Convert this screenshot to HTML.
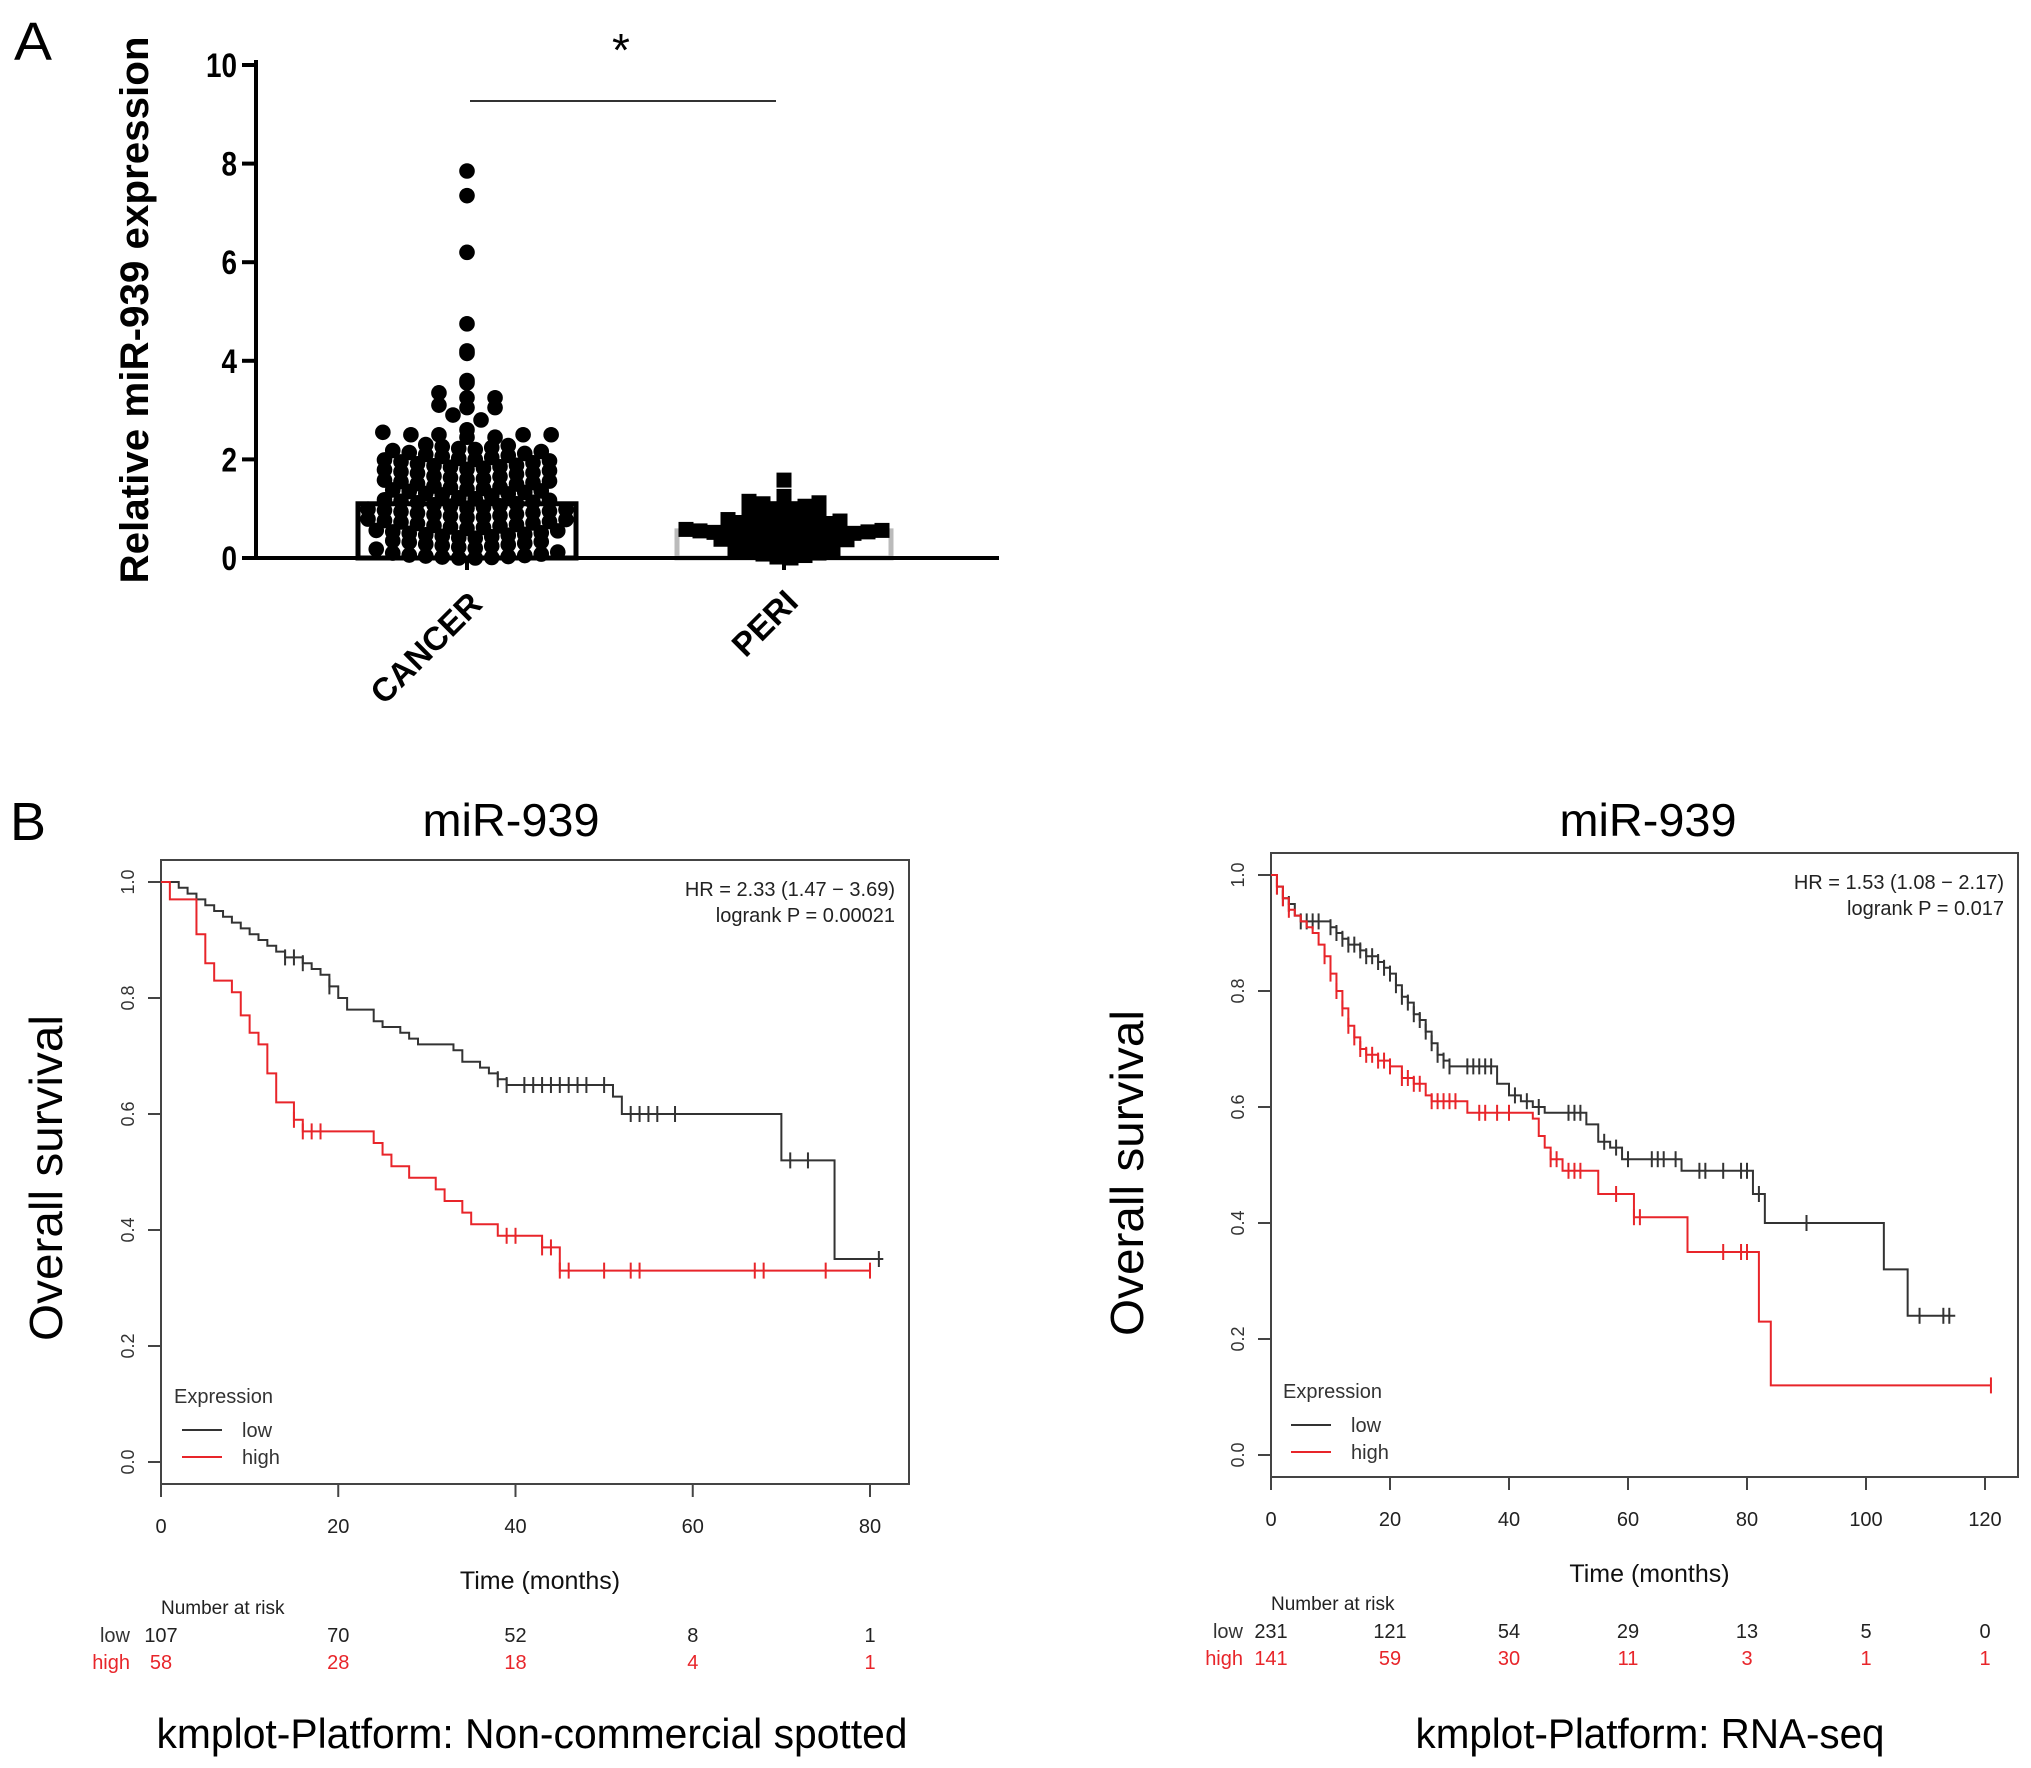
<!DOCTYPE html>
<html><head><meta charset="utf-8"><style>
html,body{margin:0;padding:0;background:#fff;}
svg{display:block;font-family:"Liberation Sans",sans-serif;}
</style></head><body>
<svg id="fig" width="2031" height="1768" viewBox="0 0 2031 1768" xmlns="http://www.w3.org/2000/svg">
<rect x="0" y="0" width="2031" height="1768" fill="#fff"/>
<g id="pa">
  <text x="14" y="60" font-size="54" textLength="38" lengthAdjust="spacingAndGlyphs">A</text>
  <text transform="translate(148,310) rotate(-90)" text-anchor="middle" font-size="40" font-weight="bold" textLength="547" lengthAdjust="spacingAndGlyphs">Relative miR-939 expression</text>
  <line x1="470" y1="101" x2="776" y2="101" stroke="#333" stroke-width="2"/>
  <text x="621" y="66" text-anchor="middle" font-size="46">*</text>
</g>
<g id="pb1">
  <text x="10" y="840" font-size="54" textLength="36" lengthAdjust="spacingAndGlyphs">B</text>
</g>
<g id="pb2"></g>
</svg>
<script>
// ---------- Panel A data ----------
const categoriesA = ["CANCER", "PERI"];
const barMeans = [1.1, 0.55];
const yTicksA = [0, 2, 4, 6, 8, 10];
const cancerValues = [0.0,0.0,0.01,0.02,0.03,0.04,0.05,0.06,0.08,0.1,0.12,
0.18,0.2,0.22,0.24,0.25,0.27,0.28,0.3,0.32,0.33,0.35,
0.4,0.41,0.43,0.44,0.46,0.47,0.48,0.5,0.51,0.53,0.55,0.56,
0.6,0.62,0.63,0.65,0.66,0.68,0.7,0.71,0.73,0.74,0.76,0.78,0.79,
0.82,0.83,0.85,0.86,0.88,0.89,0.91,0.92,0.94,0.95,0.97,0.98,0.99,
1.01,1.03,1.05,1.06,1.08,1.1,1.12,1.13,1.15,1.17,1.18,1.2,1.22,
1.26,1.28,1.3,1.31,1.33,1.35,1.36,1.38,1.4,1.41,1.43,1.44,1.46,
1.5,1.51,1.53,1.55,1.56,1.58,1.6,1.61,1.63,1.65,1.66,
1.7,1.72,1.73,1.75,1.77,1.79,1.8,1.82,1.84,1.85,1.87,1.88,
1.91,1.93,1.95,1.97,1.99,2.0,2.02,2.04,2.06,2.08,2.1,2.12,
2.14,2.16,2.18,2.2,2.22,2.24,2.26,2.28,
2.3,2.45,2.45,2.5,2.5,2.5,2.5,2.55,2.6,2.8,2.9,3.05,3.05,3.1,3.25,3.25,3.35,3.55,3.6,4.15,4.2,4.75,6.2,7.35,7.85];
const periValues = [0.0,0.02,0.05,0.08,0.1,0.12,0.15,0.18,0.2,0.22,0.25,0.28,0.3,0.32,0.33,0.35,0.37,0.38,0.4,0.41,0.42,0.43,0.45,0.46,0.47,0.48,0.5,0.5,0.52,0.53,0.55,0.56,0.58,0.6,0.62,0.63,0.65,0.68,0.7,0.72,0.75,0.78,0.8,0.85,0.9,0.92,0.95,0.98,1.0,1.0,1.05,1.1,1.12,1.15,1.25,1.58];

// ---------- Panel B data ----------
const kmTicksL = [0, 20, 40, 60, 80];
const kmTicksR = [0, 20, 40, 60, 80, 100, 120];
const survTicks = [0.0, 0.2, 0.4, 0.6, 0.8, 1.0];
const lowTimesL = [2,3,4,5,6,7,8,9,10,11,12,13,14,16,17,18,19,20,21,24,25,27,28,29,33,34,36,37,38,39,51,52,70,76];
const lowSurvL  = [0.99,0.98,0.97,0.96,0.95,0.94,0.93,0.92,0.91,0.90,0.89,0.88,0.87,0.86,0.85,0.84,0.82,0.80,0.78,0.76,0.75,0.74,0.73,0.72,0.71,0.69,0.68,0.67,0.66,0.65,0.63,0.60,0.52,0.35];
const lowCensL  = [14,15,16,19,38,39,41,42,43,44,45,46,47,48,50,53,54,55,56,58,71,73,81];
const lowEndL = 81.5;
const highTimesL = [1,4,5,6,8,9,10,11,12,13,15,16,24,25,26,28,31,32,34,35,38,43,45];
const highSurvL  = [0.97,0.91,0.86,0.83,0.81,0.77,0.74,0.72,0.67,0.62,0.59,0.57,0.55,0.53,0.51,0.49,0.47,0.45,0.43,0.41,0.39,0.37,0.33];
const highCensL  = [15,16,17,18,39,40,43,44,45,46,50,53,54,67,68,75,80];
const highEndL = 80;
const riskLowL = [107, 70, 52, 8, 1];
const riskHighL = [58, 28, 18, 4, 1];

const lowTimesR = [1,2,3,4,5,10,11,12,13,15,16,18,19,20,21,22,23,24,25,26,27,28,29,30,38,40,42,44,46,53,55,57,59,69,81,83,103,107];
const lowSurvR  = [0.98,0.96,0.95,0.93,0.92,0.91,0.90,0.89,0.88,0.87,0.86,0.85,0.84,0.83,0.81,0.79,0.78,0.76,0.75,0.73,0.71,0.69,0.68,0.67,0.64,0.62,0.61,0.60,0.59,0.57,0.54,0.53,0.51,0.49,0.45,0.40,0.32,0.24];
const lowCensR  = [1,2,3,5,6,7,8,10,11,12,13,14,15,16,17,18,19,20,21,22,23,24,25,26,27,28,29,30,33,34,35,36,37,41,43,45,50,51,52,56,58,60,64,65,66,68,72,73,76,79,80,82,90,109,113,114];
const lowEndR = 115;
const highTimesR = [1,2,3,4,5,6,7,8,9,10,11,12,13,14,15,16,18,20,22,24,26,27,33,44,45,46,47,49,55,61,70,82,84];
const highSurvR  = [0.98,0.96,0.94,0.93,0.92,0.91,0.90,0.88,0.86,0.83,0.80,0.77,0.74,0.72,0.70,0.69,0.68,0.67,0.65,0.64,0.62,0.61,0.59,0.58,0.55,0.53,0.51,0.49,0.45,0.41,0.35,0.23,0.12];
const highCensR  = [1,2,3,9,10,11,12,13,14,15,16,17,18,19,20,22,23,24,25,27,28,29,30,31,35,36,38,40,47,48,50,51,52,58,61,62,76,79,80,121];
const highEndR = 121;
const riskLowR = [231, 121, 54, 29, 13, 5, 0];
const riskHighR = [141, 59, 30, 11, 3, 1, 1];

const NS = "http://www.w3.org/2000/svg";
function mk(parent, tag, attrs, text) {
  const e = document.createElementNS(NS, tag);
  for (const k in attrs) e.setAttribute(k, attrs[k]);
  if (text !== undefined) e.textContent = text;
  parent.appendChild(e);
  return e;
}

// ---------- Panel A ----------
(function(){
  const g = document.getElementById('pa');
  const yA = v => 558 - v * 49.3;
  const catX = [467, 784];
  const barHalf = [109, 107];
  for (let i = 0; i < categoriesA.length; i++) {
    const r = mk(g, 'rect', {x: catX[i]-barHalf[i], y: yA(barMeans[i]), width: barHalf[i]*2, height: 558 - yA(barMeans[i]), fill: 'none', stroke: i === 0 ? '#000' : '#bbb', 'stroke-width': 5});
    
    
  }
  function layout(vals, cx, step, binW, wideFrom) {
    const bins = {};
    vals.forEach(v => { const b = Math.floor(v / binW + 1e-9); (bins[b] = bins[b] || []).push(v); });
    const out = [];
    Object.keys(bins).forEach(b => {
      const arr = bins[b].slice().sort((a, c) => a - c);
      const n = arr.length;
      const even = n % 2 === 0;
      const st = (arr[0] >= wideFrom) ? step * 1.7 : step;
      arr.forEach((v, i) => {
        let off;
        if (even) { const k = Math.floor(i / 2); off = (i % 2 === 0 ? 1 : -1) * (k + 0.5); }
        else { const k = Math.ceil(i / 2); off = (i % 2 === 1 ? 1 : -1) * k; if (i === 0) off = 0; }
        out.push([cx + off * st, yA(v)]);
      });
    });
    return out;
  }
  layout(cancerValues, 467, 16.5, 0.2, 2.3).forEach(p => {
    const c = mk(g, 'circle', {cx: p[0], cy: p[1], r: 7.8, fill: '#000'});
    
    
  });
  layout(periValues, 784, 14, 0.2, 99).forEach(p => {
    const s = mk(g, 'rect', {x: p[0]-7.5, y: p[1]-7.5, width: 15, height: 15, fill: '#000'});
    
    
  });
  for (let i = 0; i < 2; i++) {
    const l = mk(g, 'line', {x1: catX[i]-40, x2: catX[i]+40, y1: yA(barMeans[i]), y2: yA(barMeans[i]), stroke: '#000', 'stroke-width': 3});
    
    
  }
  const ax = mk(g, 'line', {x1: 256, y1: 60, x2: 256, y2: 560, stroke: '#000', 'stroke-width': 4});
  
  
  const bx = mk(g, 'line', {x1: 254, y1: 558, x2: 999, y2: 558, stroke: '#000', 'stroke-width': 4});
  
  
  yTicksA.forEach(t => {
    const tk = mk(g, 'line', {x1: 242, x2: 256, y1: yA(t), y2: yA(t), stroke: '#000', 'stroke-width': 4});
    
    
    const tl = mk(g, 'text', {x: 237, y: yA(t) + 12, 'text-anchor': 'end', 'font-size': 34, 'font-weight': 'bold', transform: `translate(237,0) scale(0.82,1) translate(-237,0)`}, String(t));
    
    
  });
  const labPos = [[484, 606], [800, 604]];
  for (let i = 0; i < 2; i++) {
    const tk = mk(g, 'line', {x1: catX[i], x2: catX[i], y1: 558, y2: 570, stroke: '#000', 'stroke-width': 4});
    
    
    const t = mk(g, 'text', {transform: `translate(${labPos[i][0]},${labPos[i][1]}) rotate(-45)`, 'text-anchor': 'end', 'font-size': 33, 'font-weight': 'bold'}, categoriesA[i]);
    
    
  }
})();

// ---------- Panel B ----------
function kmPanel(gid, o) {
  const g = document.getElementById(gid);
  const X = t => o.x0 + t * o.px;
  const Y = s => o.y0 - s * 580;
  const title = mk(g, 'text', {x: o.titleX, y: 836, 'text-anchor': 'middle', 'font-size': 46, textLength: 177, lengthAdjust: 'spacingAndGlyphs'}, 'miR-939');
  
  
  const box = mk(g, 'rect', {x: o.bx1, y: o.by1, width: o.bx2 - o.bx1, height: o.by2 - o.by1, fill: 'none', stroke: '#444', 'stroke-width': 2});
  
  
  const yl = mk(g, 'text', {transform: `translate(${o.ylabX},${o.ylabY}) rotate(-90)`, 'text-anchor': 'middle', 'font-size': 46, textLength: 326, lengthAdjust: 'spacingAndGlyphs'}, 'Overall survival');
  
  
  survTicks.forEach(s => {
    const tk = mk(g, 'line', {x1: o.bx1 - 13, x2: o.bx1, y1: Y(s), y2: Y(s), stroke: '#444', 'stroke-width': 2});
    
    
    const tl = mk(g, 'text', {transform: `translate(${o.bx1 - 27},${Y(s)}) rotate(-90)`, 'text-anchor': 'middle', 'font-size': 18, fill: '#333'}, s.toFixed(1));
    
    
  });
  o.ticks.forEach(t => {
    const tk = mk(g, 'line', {x1: X(t), x2: X(t), y1: o.by2, y2: o.by2 + 13, stroke: '#444', 'stroke-width': 2});
    
    
    const tl = mk(g, 'text', {x: X(t), y: o.by2 + 49, 'text-anchor': 'middle', 'font-size': 20, fill: '#222'}, String(t));
    
    
  });
  const bl = mk(g, 'line', {x1: X(0), x2: X(o.ticks[o.ticks.length-1]), y1: o.by2, y2: o.by2, stroke: '#444', 'stroke-width': 2});
  
  
  const xt = mk(g, 'text', {x: (o.bx1 + o.bx2) / 2 + 5, y: o.by2 + 105, 'text-anchor': 'middle', 'font-size': 25, fill: '#111'}, 'Time (months)');
  
  
  const h1 = mk(g, 'text', {x: o.bx2 - 14, y: o.by1 + 36, 'text-anchor': 'end', 'font-size': 20, fill: '#222'}, o.hr);
  
  
  const h2 = mk(g, 'text', {x: o.bx2 - 14, y: o.by1 + 62, 'text-anchor': 'end', 'font-size': 20, fill: '#222'}, o.p);
  
  
  function curve(times, surv, cens, end, color, name) {
    let d = `M${X(0)},${Y(1)}`;
    for (let i = 0; i < times.length; i++) d += ` H${X(times[i])} V${Y(surv[i])}`;
    d += ` H${X(end)}`;
    const p = mk(g, 'path', {d: d, fill: 'none', stroke: color, 'stroke-width': 2});
    
    
    const sAt = t => { let v = 1; for (let i = 0; i < times.length; i++) if (times[i] <= t) v = surv[i]; return v; };
    cens.forEach(t => {
      const c = mk(g, 'line', {x1: X(t), x2: X(t), y1: Y(sAt(t)) - 8, y2: Y(sAt(t)) + 8, stroke: color, 'stroke-width': 2});
      
      
    });
  }
  curve(o.lowT, o.lowS, o.lowC, o.lowE, '#333', 'low');
  curve(o.highT, o.highS, o.highC, o.highE, '#e8252a', 'high');
  const lg = mk(g, 'g', {});
  
  
  const le = mk(lg, 'text', {x: o.legX, y: o.legY, 'font-size': 20, fill: '#333'}, 'Expression');
  
  
  [['low', '#333', 33], ['high', '#e8252a', 60]].forEach(e => {
    const l = mk(lg, 'line', {x1: o.legX + 8, x2: o.legX + 48, y1: o.legY + e[2] - 6, y2: o.legY + e[2] - 6, stroke: e[1], 'stroke-width': 2});
    
    
    const t = mk(lg, 'text', {x: o.legX + 68, y: o.legY + e[2] + 1, 'font-size': 20, fill: '#333'}, e[0]);
    
    
  });
  const nr = mk(g, 'text', {x: X(0), y: o.riskY, 'font-size': 19, fill: '#222'}, 'Number at risk');
  
  
  const rl = mk(g, 'text', {x: X(0) - o.labOff, y: o.riskY + 28, 'text-anchor': 'end', 'font-size': 20, fill: '#333'}, 'low');
  
  
  const rh = mk(g, 'text', {x: X(0) - o.labOff, y: o.riskY + 55, 'text-anchor': 'end', 'font-size': 20, fill: '#e8252a'}, 'high');
  
  
  o.ticks.forEach((t, i) => {
    const a = mk(g, 'text', {x: X(t), y: o.riskY + 28, 'text-anchor': 'middle', 'font-size': 20, fill: '#222'}, String(o.riskLow[i]));
    
    
    const b = mk(g, 'text', {x: X(t), y: o.riskY + 55, 'text-anchor': 'middle', 'font-size': 20, fill: '#e8252a'}, String(o.riskHigh[i]));
    
    
  });
  const f = mk(g, 'text', {x: o.footX, y: 1748, 'text-anchor': 'middle', 'font-size': 42, textLength: o.footW, lengthAdjust: 'spacingAndGlyphs'}, o.foot);
  
  
}

kmPanel('pb1', {x0: 161, px: 8.8625, y0: 1462, bx1: 161, bx2: 909, by1: 860, by2: 1484,
  titleX: 511, ylabX: 62, ylabY: 1178, ticks: kmTicksL,
  hr: 'HR = 2.33 (1.47 \u2212 3.69)', p: 'logrank P = 0.00021',
  lowT: lowTimesL, lowS: lowSurvL, lowC: lowCensL, lowE: lowEndL,
  highT: highTimesL, highS: highSurvL, highC: highCensL, highE: highEndL,
  legX: 174, legY: 1403, riskY: 1614, riskLow: riskLowL, riskHigh: riskHighL, labOff: 31,
  footX: 532, footW: 751, foot: 'kmplot-Platform: Non-commercial spotted'});
kmPanel('pb2', {x0: 1271, px: 5.95, y0: 1455, bx1: 1271, bx2: 2018, by1: 853, by2: 1477,
  titleX: 1648, ylabX: 1143, ylabY: 1173, ticks: kmTicksR,
  hr: 'HR = 1.53 (1.08 \u2212 2.17)', p: 'logrank P = 0.017',
  lowT: lowTimesR, lowS: lowSurvR, lowC: lowCensR, lowE: lowEndR,
  highT: highTimesR, highS: highSurvR, highC: highCensR, highE: highEndR,
  legX: 1283, legY: 1398, riskY: 1610, riskLow: riskLowR, riskHigh: riskHighR, labOff: 28,
  footX: 1650, footW: 469, foot: 'kmplot-Platform: RNA-seq'});
</script>
</body></html>
